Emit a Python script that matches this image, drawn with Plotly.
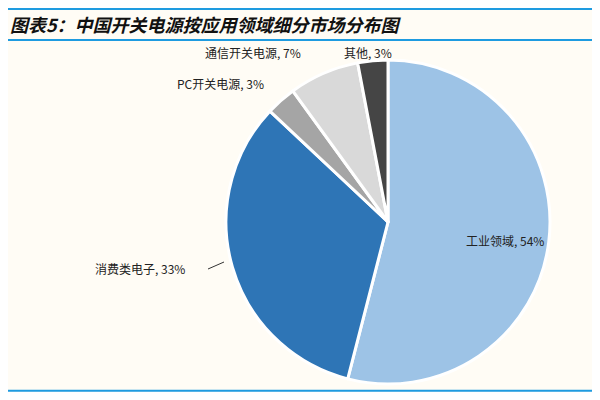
import plotly.graph_objects as go

labels = ["工业领域", "消费类电子", "PC开关电源", "通信开关电源", "其他"]
values = [54, 33, 3, 7, 3]
colors = ["#9DC3E6", "#2E75B6", "#A5A5A5", "#D9D9D9", "#454545"]
# label positions in page pixels (x, y from top)
label_pos = [(505, 240), (140, 268), (220, 83), (253, 52), (368, 52)]

# the page has an 8px body margin, so the figure is drawn 16px smaller
OFF = 8
W, H = 584, 384
cx, cy, r = 388, 222, 162


def px(x):
    return (x - OFF) / W


def py(y):
    return 1 - (y - OFF) / H


fig = go.Figure()
fig.add_trace(go.Pie(
    labels=labels, values=values, sort=False, direction="clockwise", rotation=0,
    marker=dict(colors=colors, line=dict(color="white", width=3)),
    textinfo="none", hoverinfo="label+percent", showlegend=False,
    domain=dict(x=[px(cx - r), px(cx + r)], y=[py(cy + r), py(cy - r)]),
))

for lab, v, (lx, ly) in zip(labels, values, label_pos):
    fig.add_annotation(x=px(lx), y=py(ly), xref="paper", yref="paper",
                       xanchor="center", yanchor="middle",
                       text=f"{lab}, {v}%", showarrow=False,
                       font=dict(size=12, color="#222222", family="Noto Sans CJK SC"))
# leader line for 消费类电子
fig.add_shape(type="line", xref="paper", yref="paper",
              x0=px(208), y0=py(269), x1=px(224), y1=py(262),
              line=dict(color="#333333", width=1))

fig.add_annotation(x=0, y=py(24), xref="paper", yref="paper",
                   xanchor="left", yanchor="middle",
                   text="<b><i>图表5：中国开关电源按应用领域细分市场分布图</i></b>",
                   showarrow=False, font=dict(size=18, color="#111111", family="Noto Sans CJK SC"))
for yy in [9, 40]:
    fig.add_shape(type="line", xref="paper", yref="paper", x0=0, x1=1,
                  y0=py(yy), y1=py(yy), line=dict(color="#1E9BE0", width=2))
fig.add_shape(type="line", xref="paper", yref="paper", x0=0, x1=1,
              y0=0.003, y1=0.003, line=dict(color="#1E9BE0", width=2))

fig.update_layout(width=W, height=H, margin=dict(l=0, r=0, t=0, b=0),
                  paper_bgcolor="#FFFCF5", plot_bgcolor="#FFFCF5")
fig.write_html("out.html")
